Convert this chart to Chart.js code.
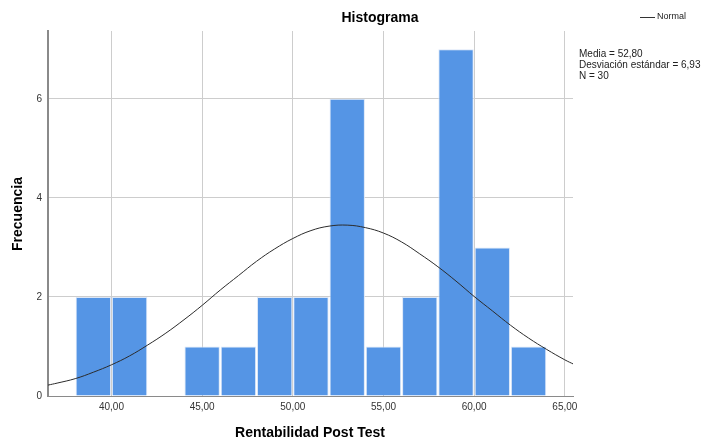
<!DOCTYPE html>
<html>
<head>
<meta charset="utf-8">
<script src="https://cdn.jsdelivr.net/npm/chart.js@4"></script>
<style>
    body { margin: 0; background: #fff; }
    #wrap { width: 701px; height: 439px; }
</style>
</head>
<body>
<div id="wrap"><canvas id="histChart" width="701" height="439"></canvas></div>
<script>
// bin centres (width 2) and counts
var binCenters = [39, 41, 43, 45, 47, 49, 51, 53, 55, 57, 59, 61, 63];
var binCounts = [2, 2, 0, 1, 1, 2, 2, 6, 1, 2, 7, 3, 1];

// normal curve
var curveX = [36.5, 37, 38, 39, 40, 41, 42, 43, 44, 45, 46, 47, 48, 49, 50, 51, 52, 53,
    54, 55, 56, 57, 58, 59, 60, 61, 62, 63, 64, 65, 65.5];
var curveY = [0.22, 0.26, 0.35, 0.48, 0.63, 0.81, 1.03, 1.27, 1.54, 1.83, 2.14, 2.43, 2.72, 2.97, 3.18, 3.34, 3.43, 3.45,
    3.40, 3.29, 3.11, 2.87, 2.61, 2.32, 2.01, 1.72, 1.43, 1.17, 0.94, 0.73, 0.64];

var xTicks = [40, 45, 50, 55, 60, 65];
var yTicks = [0, 2, 4, 6];
var statsLines = ['Media = 52,80', 'Desviación estándar = 6,93', 'N = 30'];

var ctx = document.getElementById('histChart').getContext('2d');

// titles, legend and stats box drawn by hand (SPSS layout)
var labelsPlugin = {
    id: 'spssText',
    afterDraw: function(chart) {
        var c = chart.ctx;
        c.save();
        c.fillStyle = '#000';
        c.textBaseline = 'middle';

        c.font = 'bold 14px "Liberation Sans", Arial, sans-serif';
        c.textAlign = 'center';
        c.fillText('Histograma', 380, 18);
        c.fillText('Rentabilidad Post Test', 310, 433);

        c.save();
        c.translate(18, 214);
        c.rotate(-Math.PI / 2);
        c.fillText('Frecuencia', 0, 0);
        c.restore();

        // legend
        c.strokeStyle = '#333';
        c.lineWidth = 1;
        c.beginPath();
        c.moveTo(640, 17.5);
        c.lineTo(655, 17.5);
        c.stroke();
        c.font = '9px "Liberation Sans", Arial, sans-serif';
        c.textAlign = 'left';
        c.fillStyle = '#222';
        c.fillText('Normal', 657, 17);

        c.font = '10px "Liberation Sans", Arial, sans-serif';
        statsLines.forEach(function(line, i) {
            c.fillText(line, 579, 54 + i * 11);
        });
        c.restore();
    }
};

var chart = new Chart(ctx, {
    type: 'bar',
    data: {
        datasets: [
            {
                type: 'line',
                label: 'Normal',
                data: curveX.map(function(x, i) { return { x: x, y: curveY[i] }; }),
                borderColor: '#2b2b2b',
                borderWidth: 1,
                pointRadius: 0,
                tension: 0.4,
                fill: false,
                order: 0
            },
            {
                label: 'Frecuencia',
                data: binCenters.map(function(x, i) { return { x: x, y: binCounts[i] }; }),
                backgroundColor: '#5595e5',
                borderColor: '#dbe7f8',
                borderWidth: 1,
                barPercentage: 0.975,
                categoryPercentage: 1,
                order: 1
            }
        ]
    },
    options: {
        responsive: false,
        animation: false,
        layout: { padding: { left: 0, right: 128, top: 31, bottom: 0 } },
        plugins: {
            legend: { display: false },
            tooltip: { enabled: false },
            title: { display: false }
        },
        scales: {
            x: {
                type: 'linear',
                min: 36.5,
                max: 65.45,
                offset: false,
                afterBuildTicks: function(axis) {
                    axis.ticks = xTicks.map(function(v) { return { value: v }; });
                },
                afterFit: function(axis) { axis.height = 43; },
                ticks: {
                    padding: 5,
                    color: '#333',
                    font: { family: '"Liberation Sans", Arial, sans-serif', size: 10 },
                    callback: function(v) { return v.toFixed(2).replace('.', ','); }
                },
                grid: { color: '#cdcdcd', drawTicks: false, offset: false },
                border: { color: '#8a8a8a', width: 1 }
            },
            y: {
                min: 0,
                max: 7.37,
                afterBuildTicks: function(axis) {
                    axis.ticks = yTicks.map(function(v) { return { value: v }; });
                },
                afterFit: function(axis) { axis.width = 48; },
                ticks: {
                    padding: 6,
                    color: '#333',
                    font: { family: '"Liberation Sans", Arial, sans-serif', size: 10 }
                },
                grid: { color: '#cdcdcd', drawTicks: false },
                border: { color: '#8a8a8a', width: 2 }
            }
        }
    },
    plugins: [labelsPlugin]
});
</script>
</body>
</html>
